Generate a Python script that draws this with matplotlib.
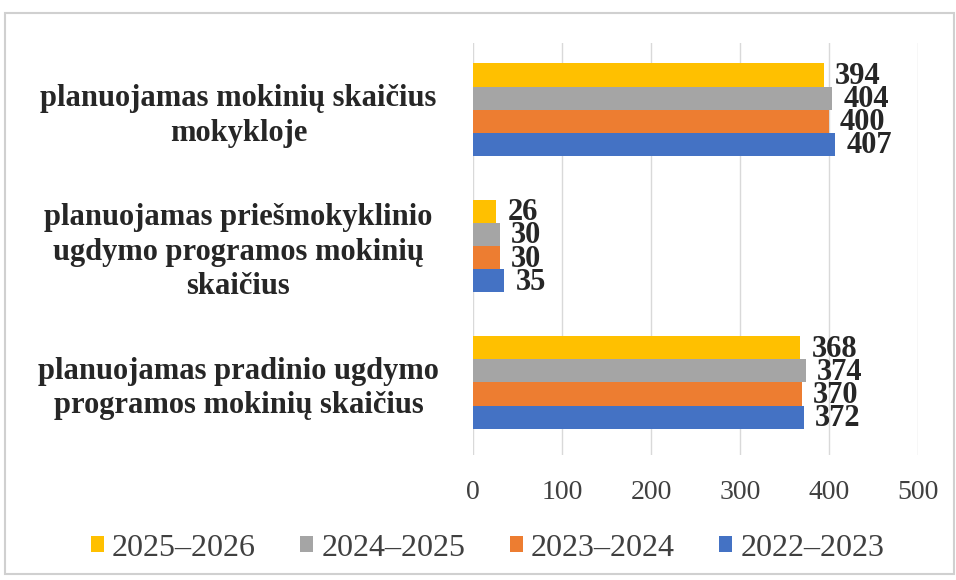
import matplotlib
matplotlib.use("Agg")
import matplotlib.pyplot as plt
from matplotlib.patches import Rectangle
import numpy as np

categories = [
    "planuojamas pradinio ugdymo\nprogramos mokinių skaičius",
    "planuojamas priešmokyklinio\nugdymo programos mokinių\nskaičius",
    "planuojamas mokinių skaičius\nmokykloje",
]
series_names = ["2022–2023", "2023–2024", "2024–2025", "2025–2026"]
values = {
    "2022–2023": [372, 35, 407],
    "2023–2024": [370, 30, 400],
    "2024–2025": [374, 30, 404],
    "2025–2026": [368, 26, 394],
}
colors = {
    "2022–2023": "#4472C4",
    "2023–2024": "#ED7D31",
    "2024–2025": "#A5A5A5",
    "2025–2026": "#FFC000",
}
xticks = [0, 100, 200, 300, 400, 500]

plt.rcParams['font.family'] = ['Liberation Serif', 'DejaVu Serif']

fig = plt.figure(figsize=(9.56, 5.8), dpi=100)
ax = fig.add_axes([0.495, 0.216, 0.465, 0.71])

y = np.arange(len(categories))
h = 0.17
handles = {}
for i, s in enumerate(series_names):
    pos = y + (i - 1.5) * h
    bars = ax.barh(pos, values[s], height=h, color=colors[s], label=s, zorder=3)
    handles[s] = bars
    for b, v in zip(bars, values[s]):
        ax.annotate(str(v), (b.get_width(), b.get_y() + b.get_height() / 2),
                    xytext=(8, -1), textcoords='offset points',
                    va='center', ha='left', fontsize=22, fontweight='bold', color='#262626')

ax.set_xlim(0, 500)
ax.set_ylim(-0.53, 2.49)
ax.set_xticks(xticks)
ax.set_xticklabels([str(t) for t in xticks], fontsize=20, color='#404040')
ax.set_yticks(y)
ax.set_yticklabels(categories, fontsize=22, fontweight='bold', color='#262626',
                   ha='center', multialignment='center', linespacing=1.25)
ax.tick_params(axis='y', length=0, pad=169)
ax.tick_params(axis='x', length=0, pad=18)
ax.grid(axis='x', color='#D9D9D9', linewidth=1, zorder=0)
for sp in ax.spines.values():
    sp.set_visible(False)

order = ["2025–2026", "2024–2025", "2023–2024", "2022–2023"]
leg = fig.legend([handles[s] for s in order], order, loc='center', bbox_to_anchor=(0.51, 0.055),
                 ncol=4, frameon=False, fontsize=23, handlelength=0.4, handleheight=0.4,
                 handletextpad=0.25, columnspacing=1.4)
for t in leg.get_texts():
    t.set_color('#404040')

fig.patches.append(Rectangle((0.005, 0.01), 0.993, 0.968, transform=fig.transFigure,
                             fill=False, edgecolor='#D0D0D0', linewidth=1.5))

fig.savefig("out.png", dpi=100)
